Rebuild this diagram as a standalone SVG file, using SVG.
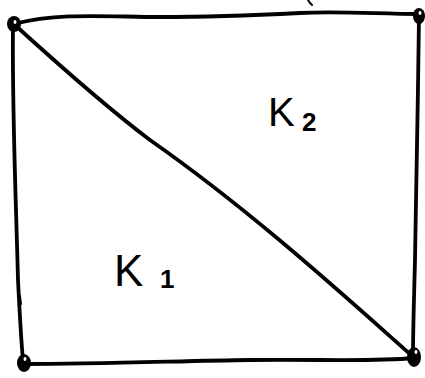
<svg xmlns="http://www.w3.org/2000/svg" width="425" height="378" viewBox="0 0 425 378">
<style>
.e{fill:none;stroke:#000;stroke-width:3.8;stroke-linecap:round;stroke-linejoin:round}
.m{fill:none;stroke:#000;stroke-width:2;stroke-linecap:round}
.n{fill:#000}
.h{fill:#fff}
.t{font-family:"Liberation Sans",Arial,sans-serif;fill:#000}
</style>
<rect width="425" height="378" fill="#fff"/>
<g id="connectors">
<path class="e" d="M14,24 C60,12 110,17 160,17 C220,17 260,15 300,13 C340,11 380,14 419,14"/>
<path class="e" d="M13,26 C12,110 16,200 18,280 C20,320 21,340 23,360"/>
<path class="e" d="M419,16 C418,100 416,200 415,260 C414,300 413,330 413,355"/>
<path class="e" d="M24,364 C100,364 180,361 250,360 C320,359 370,362 414,358"/>
<path class="e" d="M16,26 C70,75 110,110 150,140 C250,210 340,292 410,354"/>
<path class="m" d="M308,0 C309,2 311,4 312,5"/>
<path class="m" d="M20,296 L21,304"/>
</g>
<g id="n1"><ellipse class="n" cx="14" cy="24" rx="7" ry="8"/><ellipse class="h" cx="15" cy="22" rx="1.5" ry="2"/></g>
<g id="n2"><ellipse class="n" cx="419" cy="16" rx="6" ry="8"/><ellipse class="h" cx="420" cy="13" rx="1.5" ry="2"/></g>
<g id="n3"><ellipse class="n" cx="24" cy="363" rx="7" ry="9"/><ellipse class="h" cx="25" cy="359" rx="1.5" ry="2"/></g>
<g id="n4"><ellipse class="n" cx="414" cy="357" rx="7" ry="10"/><ellipse class="h" cx="416" cy="352" rx="1.5" ry="2"/></g>
<g id="k2"><text class="t" x="268" y="126" font-size="40">K</text><text class="t" x="302" y="131" font-size="26" font-weight="bold">2</text></g>
<g id="k1"><text class="t" x="114" y="286" font-size="44">K</text><text class="t" x="160" y="288" font-size="26" font-weight="bold">1</text></g>
</svg>
